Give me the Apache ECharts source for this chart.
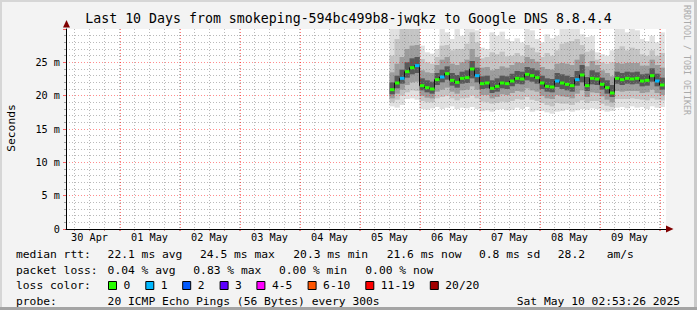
<!DOCTYPE html>
<html><head><meta charset="utf-8">
<script src="https://cdn.jsdelivr.net/npm/echarts@6/dist/echarts.min.js"></script>
<style>html,body{margin:0;padding:0;background:#f3f3f3;}#c{width:697px;height:310px;}</style>
</head><body><div id="c"></div>
<script>
// ---- axis data (x in hours since 30 Apr 00:00) ----
const xStart = 2.6;
const xEnd = 242.6;
const dayLabels = ['30 Apr','01 May','02 May','03 May','04 May','05 May','06 May','07 May','08 May','09 May'];
const dayLabelHours = [12,36,60,84,108,132,156,180,204,228];
const gridHours = [6,12,18,24,30,36,42,48,54,60,66,72,78,84,90,96,102,108,114,120,126,132,138,144,150,156,162,168,174,180,186,192,198,204,210,216,222,228,234,240];
const midnightHours = [24,48,72,96,120,144,168,192,216,240];
const yTickLabels = ['0','5 m','10 m','15 m','20 m','25 m'];

// ---- series data ----
const hours = [133,135,137,139,141,143,145,147,149,151,153,155,157,159,161,163,165,167,169,171,173,175,177,179,181,183,185,187,189,191,193,195,197,199,201,203,205,207,209,211,213,215,217,219,221,223,225,227,229,231,233,235,237,239,241];
const median = [20.9,21.9,22.6,23.6,24.2,24.5,21.5,21.2,21.0,22.4,22.8,23.3,22.3,22.0,22.6,22.7,24.0,23.0,21.8,21.9,21.1,21.4,21.9,21.8,22.2,22.6,22.5,23.2,23.0,22.7,21.9,21.4,21.3,22.2,21.9,21.7,21.5,22.4,23.1,21.5,22.6,22.5,21.7,21.2,20.4,22.6,22.4,22.6,22.5,22.6,22.2,22.3,23.0,22.2,21.6];
const lossCount = [0,0,1,0,0,1,0,0,0,0,1,0,0,0,0,0,0,1,0,0,0,0,0,0,0,0,0,0,0,0,0,0,0,1,0,0,0,1,0,0,0,0,0,0,0,0,0,0,0,0,0,0,0,1,0];
const smokeMin = [18.4,18.2,18.6,19.5,19.6,19.4,18.0,17.9,18.1,18.3,18.0,18.2,18.4,18.0,18.2,18.1,18.3,18.0,17.7,17.8,17.6,17.9,18.0,17.8,17.9,18.2,18.0,18.3,17.6,17.8,17.7,17.5,17.3,17.6,17.7,17.9,17.6,17.8,18.0,17.9,18.1,18.0,17.8,17.6,17.7,18.2,18.3,18.1,18.4,18.2,18.3,18.0,18.4,18.2,18.3];
const smokeLo2 = [19.0,19.4,20.0,20.5,20.8,20.7,19.2,19.0,19.0,19.6,19.8,20.0,19.6,19.3,19.6,19.7,20.0,19.6,19.1,19.0,18.8,18.9,19.1,19.0,19.2,19.5,19.4,19.8,19.4,19.2,18.9,18.6,18.4,18.9,18.8,18.8,18.6,19.0,19.3,18.9,19.2,19.2,18.8,18.5,18.3,19.5,19.5,19.5,19.6,19.5,19.4,19.3,19.6,19.4,19.3];
const smokeLo3 = [19.6,20.3,20.9,21.6,22.0,22.1,20.0,19.7,19.6,20.6,20.9,21.2,20.6,20.3,20.8,20.9,21.4,20.9,20.1,20.1,19.6,19.8,20.2,20.1,20.4,20.7,20.6,21.1,20.8,20.6,20.0,19.6,19.5,20.1,19.9,19.8,19.6,20.3,20.8,19.8,20.5,20.4,19.9,19.4,19.0,20.7,20.6,20.7,20.7,20.7,20.4,20.5,20.9,20.4,20.1];
const smokeLo4 = [20.2,21.1,21.8,22.7,23.2,23.4,20.8,20.5,20.3,21.6,22.0,22.4,21.5,21.2,21.8,21.9,22.6,22.0,21.0,21.1,20.4,20.6,21.1,21.0,21.4,21.8,21.7,22.3,22.1,21.8,21.0,20.6,20.5,21.3,21.0,20.8,20.6,21.5,22.0,20.7,21.7,21.6,20.9,20.3,19.8,21.8,21.6,21.8,21.7,21.8,21.4,21.5,22.1,21.4,20.9];
const smokeHi4 = [22.0,23.0,23.9,25.0,25.6,25.8,22.6,22.3,22.1,23.4,23.9,24.4,23.4,23.1,23.6,23.8,25.2,24.2,22.9,23.0,22.3,22.6,23.0,22.9,23.3,23.7,23.6,24.3,24.1,23.8,23.0,22.6,22.5,23.4,23.2,23.0,22.8,23.7,24.6,22.8,23.8,23.5,22.7,22.3,21.6,23.6,23.4,23.6,23.5,23.6,23.2,23.3,24.1,23.3,22.7];
const smokeHi3 = [23.5,24.8,25.8,27.0,27.5,27.6,23.8,23.5,23.4,24.6,25.4,25.8,24.8,24.6,25.0,25.4,27.0,25.8,24.2,24.3,23.8,24.0,24.4,24.2,24.6,25.0,24.9,25.8,25.5,25.1,24.3,24.0,23.9,24.8,24.9,24.8,24.6,25.4,26.2,24.4,25.2,24.6,23.8,23.4,22.9,24.9,24.8,24.9,24.9,24.9,24.5,24.5,25.4,24.6,24.2];
const smokeHi2 = [26.0,28.5,30.5,30.5,30.5,30.5,25.5,25.0,24.8,25.8,27.5,27.6,26.8,27.0,27.0,27.8,29.5,28.0,25.6,25.8,26.5,26.2,26.6,25.9,26.0,26.4,26.0,27.6,27.2,26.5,25.8,26.4,26.0,26.8,27.8,28.0,28.2,28.5,27.6,26.6,26.8,25.4,25.0,24.8,25.0,27.0,27.4,26.8,27.2,27.0,26.2,26.0,26.8,26.0,26.4];
const smokeMax = [30.5,30.5,30.5,30.5,30.5,30.5,27.5,26.5,26.3,27.0,30.5,29.5,28.5,30.0,29.0,30.5,30.5,29.8,27.2,27.0,29.5,29.0,29.6,28.5,28.2,28.6,28.0,30.2,29.8,28.5,28.0,29.2,28.6,29.0,30.5,30.5,30.5,30.5,29.2,28.8,29.0,26.5,26.2,26.0,26.8,30.0,30.3,29.5,30.0,29.8,28.5,28.2,29.0,28.0,29.5];

// ---- legend texts ----
const titleText = 'Last 10 Days from smokeping-594bc499b8-jwqkz to Google DNS 8.8.4.4';
const rttTexts = ['median rtt:','22.1 ms avg','24.5 ms max','20.3 ms min','21.6 ms now','0.8 ms sd','28.2','am/s'];
const lossTexts = ['packet loss:','0.04 % avg','0.83 % max','0.00 % min','0.00 % now'];
const lossLegendLabels = ['0','1','2','3','4-5','6-10','11-19','20/20'];
const lossLegendColors = ['#26ff00','#00b8ff','#0059ff','#5e00ff','#ff00ff','#ff5500','#ff0000','#a10000'];
const probeTexts = ['probe:','20 ICMP Echo Pings (56 Bytes) every 300s'];
const dateText = 'Sat May 10 02:53:26 2025';

// ---- layout (positions / styles) ----
const FONT = 'DejaVu Sans Mono';
const STEP = 2;
const rttX = [16,107.6,200,293.3,386.7,479,557.8,606.7];
const lossX = [16,107.6,193.3,279,365.3];
const boxX = [108,145.3,182.2,219.6,256.4,307.6,365.3,429.8];
const rowY = [254,270,285.5,301];
const GRAY = 'rgba(130,130,130,0.55)';
const RED = 'rgba(255,0,0,0.45)';

function lossColor(n){
  if(n<=0) return lossLegendColors[0];
  if(n===1) return lossLegendColors[1];
  if(n===2) return lossLegendColors[2];
  if(n===3) return lossLegendColors[3];
  if(n<=5) return lossLegendColors[4];
  if(n<=10) return lossLegendColors[5];
  if(n<=19) return lossLegendColors[6];
  return lossLegendColors[7];
}

function bandSeries(lo, hi, color, z){
  return {
    type:'custom', z:z, silent:true, xAxisIndex:0, yAxisIndex:0,
    data: hours.map((h,i)=>[h, lo[i], hi[i]]),
    encode:{x:0, y:[1,2]},
    renderItem:(params, api)=>{
      const t = api.value(0);
      const a = api.coord([t-STEP/2, api.value(2)]);
      const b = api.coord([t+STEP/2, api.value(1)]);
      const cs = params.coordSys;
      const r = echarts.graphic.clipRectByRect(
        {x:a[0], y:a[1], width:b[0]-a[0]+0.35, height:b[1]-a[1]},
        {x:cs.x, y:cs.y, width:cs.width, height:cs.height});
      return r ? {type:'rect', shape:r, style:{fill:color}} : null;
    }
  };
}

const graphics = [];
graphics.push({type:'rect', shape:{x:0,y:0,width:697,height:2}, style:{fill:'#d6d6d6'}, silent:true});
graphics.push({type:'rect', shape:{x:0,y:0,width:2,height:310}, style:{fill:'#d6d6d6'}, silent:true});
graphics.push({type:'rect', shape:{x:694,y:0,width:3,height:310}, style:{fill:'#cacaca'}, silent:true});
graphics.push({type:'rect', shape:{x:0,y:307,width:697,height:3}, style:{fill:'#a4a4a4'}, silent:true});
graphics.push({type:'text', x:348.5, y:18, style:{text:titleText, font:'13.25px '+FONT, fill:'#000', align:'center', verticalAlign:'middle'}});
graphics.push({type:'text', x:11, y:128, rotation:Math.PI/2, style:{text:'Seconds', font:'11.3px '+FONT, fill:'#000', align:'center', verticalAlign:'middle'}});
graphics.push({type:'text', x:687, y:5, rotation:-Math.PI/2, style:{text:'RRDTOOL / TOBI OETIKER', font:'8.3px '+FONT, fill:'#aaaaaa', align:'left', verticalAlign:'middle'}});
graphics.push({type:'polygon', shape:{points:[[66.5,20],[63,27.5],[70,27.5]]}, style:{fill:'#800000'}, z:20});
graphics.push({type:'polygon', shape:{points:[[673.5,229],[666,225.5],[666,232.5]]}, style:{fill:'#800000'}, z:20});
rttTexts.forEach((t,i)=>graphics.push({type:'text', x:rttX[i], y:rowY[0], style:{text:t, font:'11.3px '+FONT, fill:'#000', verticalAlign:'middle'}}));
lossTexts.forEach((t,i)=>graphics.push({type:'text', x:lossX[i], y:rowY[1], style:{text:t, font:'11.3px '+FONT, fill:'#000', verticalAlign:'middle'}}));
graphics.push({type:'text', x:16, y:rowY[2], style:{text:'loss color:', font:'11.3px '+FONT, fill:'#000', verticalAlign:'middle'}});
lossLegendLabels.forEach((t,i)=>{
  graphics.push({type:'rect', shape:{x:boxX[i]+0.5, y:rowY[2]-4, width:8, height:8}, style:{fill:lossLegendColors[i], stroke:'#000', lineWidth:1}});
  graphics.push({type:'text', x:boxX[i]+15.5, y:rowY[2], style:{text:t, font:'11.3px '+FONT, fill:'#000', verticalAlign:'middle'}});
});
probeTexts.forEach((t,i)=>graphics.push({type:'text', x:[16,107.6][i], y:rowY[3], style:{text:t, font:'11.3px '+FONT, fill:'#000', verticalAlign:'middle'}}));
graphics.push({type:'text', x:680, y:rowY[3], style:{text:dateText, font:'11.3px '+FONT, fill:'#000', align:'right', verticalAlign:'middle'}});

const chart = echarts.init(document.getElementById('c'), null, {renderer:'svg'});
chart.setOption({
  animation:false,
  backgroundColor:'#f3f3f3',
  grid:{left:66, top:29, width:600, height:200, show:true, backgroundColor:'#ffffff', borderWidth:0},
  xAxis:[
    {type:'value', min:xStart, max:xEnd, z:4,
     axisLine:{show:true, onZero:false, lineStyle:{color:'#000', width:1}},
     axisTick:{show:false},
     axisLabel:{customValues:dayLabelHours, formatter:v=>dayLabels[dayLabelHours.indexOf(v)], fontFamily:FONT, fontSize:10.2, color:'#000', margin:3},
     splitLine:{show:false}},
    {type:'value', min:xStart, max:xEnd, z:3, position:'bottom',
     axisLine:{show:false},
     axisTick:{show:true, customValues:gridHours, length:2, lineStyle:{color:'rgba(200,60,60,0.6)'}},
     axisLabel:{show:false},
     splitLine:{show:true, lineStyle:{color:GRAY, type:[1,2], width:1}}}
  ],
  yAxis:[{type:'value', min:0, max:30, interval:5, z:3,
    axisLine:{show:true, onZero:false, lineStyle:{color:'#000', width:1}},
    axisTick:{show:true, length:3, lineStyle:{color:'rgba(255,0,0,0.6)'}},
    minorTick:{show:true, splitNumber:5, length:2, lineStyle:{color:'rgba(130,130,130,0.7)'}},
    axisLabel:{formatter:v=>{const k=Math.round(v/5); return (Math.abs(v-k*5)<1e-6 && k<yTickLabels.length)? yTickLabels[k] : '';}, fontFamily:FONT, fontSize:10.2, color:'#000', margin:6},
    splitLine:{show:true, showMaxLine:false, lineStyle:{color:RED, type:[1,2], width:1}},
    minorSplitLine:{show:true, lineStyle:{color:GRAY, type:[1,2], width:1}}
  }],
  graphic:graphics,
  series:[
    bandSeries(smokeMin, smokeMax, '#e0e0e0', 1),
    bandSeries(smokeLo2, smokeHi2, '#c4c4c4', 1),
    bandSeries(smokeLo3, smokeHi3, '#9c9c9c', 1),
    bandSeries(smokeLo4, smokeHi4, '#585858', 1),
    {type:'custom', z:3, silent:true, xAxisIndex:0,
     data:midnightHours.map(h=>[h]),
     encode:{x:0},
     renderItem:(params, api)=>{
       const top = api.coord([api.value(0), 30]);
       const bot = api.coord([api.value(0), 0]);
       const x = Math.round(top[0]) + 0.5;
       return {type:'line', shape:{x1:x, y1:top[1], x2:x, y2:bot[1]+2}, style:{stroke:'rgba(255,0,0,0.5)', lineWidth:1, lineDash:[1,2]}};
     }},
    {type:'line', z:5, step:'middle', symbol:'none', silent:true, xAxisIndex:0,
     data:hours.map((h,i)=>[h, median[i]]), lineStyle:{color:'#111', width:1}},
    {type:'custom', z:6, silent:true, xAxisIndex:0,
     data:hours.map((h,i)=>[h, median[i], lossCount[i]]),
     encode:{x:0, y:1},
     renderItem:(params, api)=>{
       const t=api.value(0), v=api.value(1);
       const a=api.coord([t-STEP/2, v]), b=api.coord([t+STEP/2, v]);
       return {type:'rect', shape:{x:a[0]+0.5, y:a[1]-1.5, width:b[0]-a[0]-0.5, height:3}, style:{fill:lossColor(api.value(2))}};
     }}
  ]
});
</script></body></html>
